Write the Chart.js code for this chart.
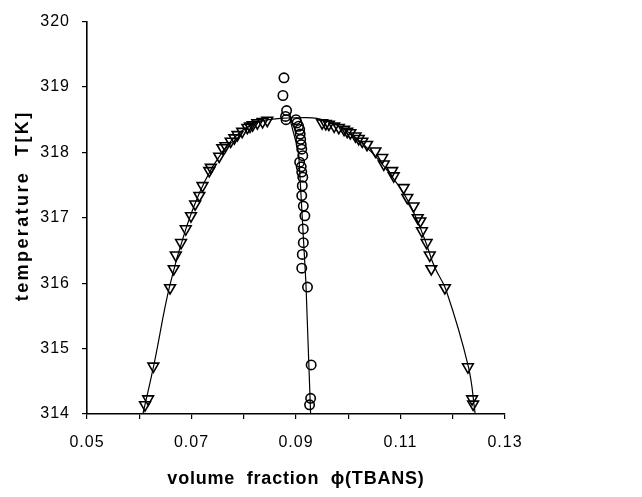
<!DOCTYPE html>
<html>
<head>
<meta charset="utf-8">
<script src="https://cdn.jsdelivr.net/npm/chart.js@4"></script>
<style>
html,body{margin:0;padding:0;background:#fff;}
canvas{display:block;}
</style>
</head>
<body>
<canvas id="c" width="642" height="497"></canvas>
<script>
// ---- data ----
const leftX = [0.0611,0.0617,0.0627,0.0659,0.0666,0.0670,0.0680,0.0689,0.0699,0.0707,0.0715,0.0721,0.0734,0.0737,0.0753,0.0759,0.0765,0.0775,0.0782,0.0788,0.0797,0.0807,0.0812,0.0817,0.0826,0.0836,0.0845];
const leftT = [314.14,314.23,314.73,315.93,316.22,316.43,316.62,316.83,317.03,317.21,317.34,317.49,317.72,317.77,317.94,318.07,318.10,318.17,318.22,318.27,318.32,318.38,318.40,318.42,318.45,318.47,318.49];

const rightX = [0.0950,0.0957,0.0963,0.0973,0.0982,0.0992,0.0998,0.1004,0.1014,0.1020,0.1027,0.1036,0.1052,0.1065,0.1068,0.1084,0.1087,0.1106,0.1113,0.1125,0.1133,0.1138,0.1141,0.1150,0.1156,0.1159,0.1185,0.1229,0.1237,0.1239];
const rightT = [318.45,318.44,318.43,318.40,318.38,318.35,318.32,318.30,318.25,318.21,318.17,318.12,318.02,317.92,317.82,317.72,317.64,317.46,317.31,317.18,317.00,316.95,316.80,316.62,316.43,316.22,315.93,314.72,314.23,314.15];

const circX = [0.0877,0.0875,0.0882,0.0880,0.0881,0.0900,0.0902,0.0905,0.0907,0.0908,0.0909,0.0910,0.0911,0.0913,0.0907,0.0910,0.0911,0.0913,0.0912,0.0911,0.0914,0.0917,0.0914,0.0914,0.0912,0.0911,0.0922,0.0929,0.0928,0.0926];
const circT = [319.14,318.87,318.64,318.55,318.50,318.50,318.45,318.40,318.35,318.28,318.20,318.12,318.05,317.95,317.85,317.78,317.70,317.62,317.49,317.34,317.18,317.03,316.83,316.62,316.44,316.23,315.94,314.75,314.24,314.14];

// coexistence curve (solid line)
const curveX = [0.0607,0.0628,0.0658,0.0690,0.0725,0.0760,0.0795,0.0830,0.0870,0.0905,0.0940,0.0975,0.1010,0.1045,0.1080,0.1115,0.1145,0.1165,0.1187,0.1230,0.1243];
const curveT = [314.00,314.75,315.95,316.85,317.55,318.02,318.32,318.47,318.52,318.53,318.52,318.43,318.25,318.00,317.67,317.25,316.70,316.25,315.90,314.72,314.00];

// diameter line
const diamX = [0.0888,0.0905,0.0912,0.0919,0.0928];
const diamT = [318.52,318.00,317.00,316.00,314.00];

const xTicks = [0.05,0.06,0.07,0.08,0.09,0.10,0.11,0.12,0.13];
const xLabels = ['0.05','','0.07','','0.09','','0.11','','0.13'];
const yTicks = [314,315,316,317,318,319,320];

const xTitle = 'volume  fraction  \u03D5(TBANS)';
const yTitle = 'temperature  T[K]';

const pts = (xs, ys) => xs.map((x, i) => ({x, y: ys[i]}));

const spacingPlugin = {
  id: 'spacing',
  beforeDraw(chart) {
    const cfg = {x: {sp: '0.8px', dy: 3}, y: {sp: '2.4px', dy: -12}};
    for (const id of ['x', 'y']) {
      const s = chart.scales[id];
      if (s && !s._wrappedTitle) {
        const orig = s.drawTitle.bind(s);
        s.drawTitle = function () {
          const c = this.ctx;
          c.save();
          c.translate(0, cfg[id].dy);
          c.letterSpacing = cfg[id].sp;
          orig();
          c.restore();
        };
        const origL = s.drawLabels.bind(s);
        s.drawLabels = function (a) {
          const c = this.ctx;
          c.save();
          c.letterSpacing = '1px';
          origL(a);
          c.restore();
        };
        s._wrappedTitle = true;
      }
    }
  }
};

const FONT = 'Liberation Sans, Arial, Helvetica, sans-serif';

new Chart(document.getElementById('c'), {
  type: 'scatter',
  data: {
    datasets: [
      {
        data: pts(curveX, curveT), showLine: true, tension: 0.4,
        borderColor: '#000', borderWidth: 1.2, pointRadius: 0, order: 3
      },
      {
        data: pts(diamX, diamT), showLine: true, tension: 0,
        borderColor: '#000', borderWidth: 1.2, pointRadius: 0, order: 3
      },
      {
        data: pts(leftX, leftT), pointStyle: 'triangle', rotation: 180,
        pointRadius: 6.2, pointBorderWidth: 1.6, pointBorderColor: '#000',
        pointBackgroundColor: 'rgba(255,255,255,0)', order: 1
      },
      {
        data: pts(rightX, rightT), pointStyle: 'triangle', rotation: 180,
        pointRadius: 6.2, pointBorderWidth: 1.6, pointBorderColor: '#000',
        pointBackgroundColor: 'rgba(255,255,255,0)', order: 1
      },
      {
        data: pts(circX, circT), pointStyle: 'circle',
        pointRadius: 4.7, pointBorderWidth: 1.6, pointBorderColor: '#000',
        pointBackgroundColor: 'rgba(255,255,255,0)', order: 2
      }
    ]
  },
  options: {
    responsive: false,
    animation: false,
    events: [],
    layout: {padding: {top: 20, right: 137, left: 0, bottom: 0}},
    plugins: {legend: {display: false}, tooltip: {enabled: false}},
    scales: {
      x: {
        type: 'linear', min: 0.05, max: 0.13,
        afterBuildTicks: (s) => { s.ticks = xTicks.map(v => ({value: v})); },
        afterFit: (s) => { s.height = 83; },
        ticks: {
          color: '#000', padding: 14, maxRotation: 0, autoSkip: false,
          font: {family: FONT, size: 16},
          callback: (v, i) => xLabels[i]
        },
        grid: {drawOnChartArea: false, drawTicks: true, tickLength: 5, color: '#000', lineWidth: 1.2},
        border: {display: true, color: '#000', width: 1.6},
        title: {
          display: true, text: xTitle, color: '#000',
          font: {family: FONT, size: 18, weight: 'bold'},
          padding: {top: 0, bottom: 10}
        }
      },
      y: {
        type: 'linear', min: 314, max: 320,
        afterBuildTicks: (s) => { s.ticks = yTicks.map(v => ({value: v})); },
        afterFit: (s) => { s.width = 87; },
        ticks: {
          color: '#000', padding: 12,
          font: {family: FONT, size: 16},
          callback: (v) => String(v)
        },
        grid: {drawOnChartArea: false, drawTicks: true, tickLength: 5, color: '#000', lineWidth: 1.2},
        border: {display: true, color: '#000', width: 1.6},
        title: {
          display: true, text: yTitle, color: '#000',
          font: {family: FONT, size: 18, weight: 'bold'},
          padding: {top: 12, bottom: 0}
        }
      }
    }
  },
  plugins: [spacingPlugin]
});
</script>
</body>
</html>
